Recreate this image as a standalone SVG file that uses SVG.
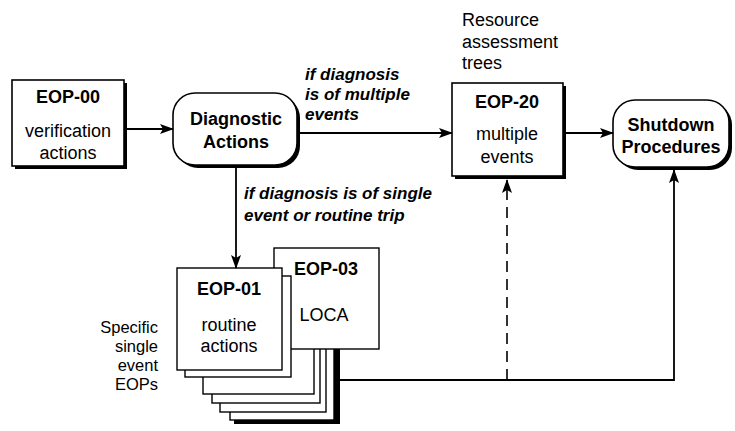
<svg xmlns="http://www.w3.org/2000/svg" width="735" height="431" viewBox="0 0 735 431">
  <defs>
    <style>
      .box { fill: #fff; stroke: #000; stroke-width: 1.6; }
      .shadow { fill: #000; }
      .page { fill: #fff; stroke: #000; stroke-width: 1.4; }
      .t { font-family: "Liberation Sans", Arial, Helvetica, sans-serif; font-size: 18px; fill: #000; }
      .b { font-weight: bold; }
      .mid { text-anchor: middle; }
      .end { text-anchor: end; }
      .note { font-size: 16.5px; }
      .it { font-family: "Liberation Sans", Arial, Helvetica, sans-serif; font-size: 17px; font-style: italic; font-weight: bold; fill: #000; }
      .line { fill: none; stroke: #000; stroke-width: 1.8; }
      .dash { fill: none; stroke: #000; stroke-width: 1.6; stroke-dasharray: 11 7; }
    </style>
    <marker id="arrow" viewBox="0 0 14 10" refX="13" refY="5" markerWidth="14" markerHeight="10" markerUnits="userSpaceOnUse" orient="auto">
      <path d="M0,0 L14,5 L0,10 L3,5 z" fill="#000"/>
    </marker>
  </defs>

  <!-- EOP-00 -->
  <g id="eop00">
    <rect class="shadow" x="15" y="83" width="112" height="86"/>
    <rect class="box" x="12" y="80" width="112" height="86"/>
    <text class="t b mid" x="68" y="103">EOP-00</text>
    <text class="t mid" x="68" y="137">verification</text>
    <text class="t mid" x="68" y="159">actions</text>
  </g>

  <!-- Diagnostic Actions -->
  <g id="diagnostic">
    <rect class="shadow" x="176" y="96" width="124" height="72" rx="22"/>
    <rect class="box" x="173" y="93" width="124" height="72" rx="22"/>
    <text class="t b mid" x="236" y="125">Diagnostic</text>
    <text class="t b mid" x="236" y="148">Actions</text>
  </g>

  <!-- EOP-20 -->
  <g id="eop20">
    <rect class="shadow" x="455" y="86" width="111" height="93"/>
    <rect class="box" x="452" y="83" width="111" height="93"/>
    <text class="t b mid" x="507" y="108">EOP-20</text>
    <text class="t mid" x="507" y="140">multiple</text>
    <text class="t mid" x="507" y="163">events</text>
  </g>

  <g id="resource-note">
    <text class="t" x="462" y="26">Resource</text>
    <text class="t" x="462" y="48">assessment</text>
    <text class="t" x="462" y="69">trees</text>
  </g>

  <!-- Shutdown Procedures -->
  <g id="shutdown">
    <rect class="shadow" x="616" y="103" width="116" height="67" rx="22"/>
    <rect class="box" x="613" y="100" width="116" height="67" rx="22"/>
    <text class="t b mid" x="671" y="131">Shutdown</text>
    <text class="t b mid" x="671" y="153">Procedures</text>
  </g>

  <!-- stack of single-event EOPs, back pages first -->
  <g id="eop-stack">
    <rect class="shadow" x="234" y="320" width="106" height="104"/>
    <rect class="page" x="230" y="316" width="104" height="104"/>
    <rect class="page" x="220" y="308" width="106" height="104"/>
    <rect class="page" x="212" y="300" width="108" height="103"/>
    <rect class="page" x="203" y="292" width="111" height="102"/>
  </g>

  <g id="eop03">
    <rect class="page" x="274" y="248" width="105" height="101"/>
    <text class="t b mid" x="326" y="275">EOP-03</text>
    <text class="t mid" x="324" y="321">LOCA</text>
  </g>

  <g id="eop-page2">
    <rect class="page" x="185" y="276" width="106" height="101"/>
  </g>

  <g id="eop01">
    <rect class="page" x="177" y="268" width="105" height="102"/>
    <text class="t b mid" x="229" y="295">EOP-01</text>
    <text class="t mid" x="229" y="331">routine</text>
    <text class="t mid" x="229" y="352">actions</text>
  </g>

  <g id="stack-note">
    <text class="t note end" x="158" y="333">Specific</text>
    <text class="t note end" x="158" y="352">single</text>
    <text class="t note end" x="158" y="371">event</text>
    <text class="t note end" x="158" y="390">EOPs</text>
  </g>

  <!-- connectors -->
  <g id="connectors">
    <path class="line" d="M127,129 H173" marker-end="url(#arrow)"/>
    <path class="line" d="M300,133 H452" marker-end="url(#arrow)"/>
    <path class="line" d="M566,133 H613" marker-end="url(#arrow)"/>
    <path class="line" d="M236,168 V268" marker-end="url(#arrow)"/>
    <path class="line" d="M340,380 H674 V170" marker-end="url(#arrow)"/>
    <path class="dash" d="M507,380 V180" marker-end="url(#arrow)"/>
    <text class="it" x="305" y="80">if diagnosis</text>
    <text class="it" x="305" y="100">is of multiple</text>
    <text class="it" x="305" y="120">events</text>
    <text class="it" x="244" y="199">if diagnosis is of single</text>
    <text class="it" x="244" y="221">event or routine trip</text>
  </g>
</svg>
